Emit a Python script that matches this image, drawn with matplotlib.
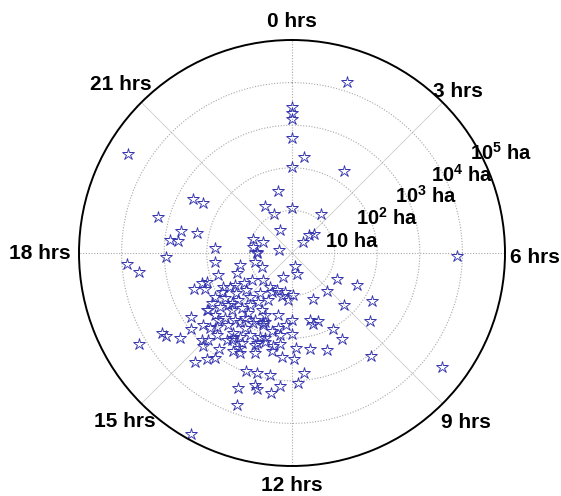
import numpy as np
import matplotlib
matplotlib.use("Agg")
import matplotlib.pyplot as plt

# hour of day (0-24) and log10 of burned area (ha)
fire_hour = [
    1.19, 0.00, 0.00, 0.00, 0.00, 0.48, 0.00, 2.16, 23.15, 22.01,
    22.35, 0.00, 2.44, 3.00, 2.89, 3.28, 22.16, 20.07, 19.91, 19.97,
    19.01, 18.75, 18.79, 18.41, 18.40, 18.25, 19.31, 19.39, 18.58, 18.11,
    18.87, 17.75, 17.53, 17.88, 6.07, 11.13, 11.11, 8.00, 7.75, 9.16,
    10.37, 11.91, 9.00, 8.07, 11.00, 10.61, 10.90, 10.11, 8.74, 9.97,
    12.00, 11.84, 11.29, 10.67, 11.93, 9.50, 11.61, 11.82, 8.49, 13.37,
    12.87, 13.94, 13.33, 13.46, 13.05, 12.97, 12.35, 12.57, 13.43, 13.09,
    12.68, 14.78, 14.58, 12.37, 14.43, 15.94, 15.88, 15.76, 15.51, 15.53,
    15.84, 15.75, 16.65, 16.76, 16.50, 15.07, 14.93, 14.50, 14.31, 14.09,
    13.85, 13.46, 13.13, 12.78, 17.56, 16.89, 16.73, 18.00, 17.09, 16.33,
    17.13, 16.67, 15.87, 16.05, 13.81, 14.58, 14.91, 12.33, 15.74, 16.02,
    15.72, 15.54, 15.10, 14.82, 14.42, 13.85, 15.06, 14.69, 13.93, 13.43,
    12.70, 14.14, 14.81, 14.32, 14.93, 13.17, 13.96, 12.78, 13.35, 16.09,
    16.25, 15.73, 15.13, 14.19, 13.47, 12.68, 15.35, 15.41, 15.19, 14.47,
    13.94, 13.50, 12.85, 12.00, 14.45, 14.12, 12.55, 13.42, 12.50, 13.57,
    13.46, 15.03, 13.39, 13.94, 16.06, 15.39, 15.27, 14.39, 14.77, 14.59,
    15.19, 15.63, 14.32, 15.87, 15.41, 13.81, 15.40, 14.45, 13.81, 12.32,
    12.97,
]
log10_area = [
    4.21, 3.42, 3.28, 3.14, 2.69, 2.26, 2.03, 2.29, 1.50, 1.28,
    1.01, 1.06, 1.15, 0.37, 0.58, 0.69, 0.61, 4.49, 2.66, 2.39,
    3.25, 2.65, 2.29, 2.87, 2.70, 1.80, 0.98, 0.73, 0.93, 0.83,
    0.31, 3.88, 3.61, 2.95, 3.87, 0.31, 0.51, 1.23, 1.71, 1.22,
    1.19, 0.99, 1.73, 2.20, 1.64, 1.72, 1.75, 2.04, 2.44, 2.33,
    1.89, 2.24, 2.30, 2.41, 2.48, 3.06, 2.82, 3.05, 4.42, 0.60,
    1.04, 4.86, 3.79, 3.41, 3.23, 3.29, 3.13, 3.32, 2.97, 2.93,
    2.92, 3.44, 3.20, 2.46, 3.05, 4.18, 3.58, 3.54, 3.30, 2.98,
    2.82, 2.41, 2.46, 2.22, 2.22, 2.95, 3.02, 2.83, 2.49, 2.68,
    2.64, 2.34, 2.19, 2.22, 1.83, 1.82, 2.10, 0.83, 0.90, 0.78,
    1.26, 1.38, 1.34, 1.54, 1.03, 1.21, 1.43, 1.11, 1.90, 2.09,
    2.39, 2.12, 1.95, 1.75, 1.75, 1.52, 2.20, 2.07, 1.80, 1.75,
    1.80, 2.09, 2.61, 2.44, 2.85, 2.10, 2.55, 2.34, 2.51, 1.67,
    1.81, 1.14, 0.93, 0.96, 0.94, 0.93, 1.84, 2.33, 2.61, 2.04,
    1.89, 1.79, 1.50, 1.58, 2.33, 2.33, 1.95, 2.28, 2.16, 1.59,
    1.83, 2.48, 2.12, 2.43, 1.89, 1.94, 1.69, 1.89, 2.27, 1.58,
    2.35, 1.62, 1.41, 2.22, 1.39, 1.24, 2.70, 2.56, 2.17, 1.70,
    1.88,
]

hour_labels = ["0 hrs", "3 hrs", "6 hrs", "9 hrs", "12 hrs", "15 hrs", "18 hrs", "21 hrs"]
ring_labels = ["10 ha", "10$^{2}$ ha", "10$^{3}$ ha", "10$^{4}$ ha", "10$^{5}$ ha"]

plt.rcParams["font.family"] = ["Liberation Sans", "DejaVu Sans"]
plt.rcParams["mathtext.fontset"] = "custom"
plt.rcParams["mathtext.rm"] = "Liberation Sans:bold"
plt.rcParams["mathtext.it"] = "Liberation Sans:bold"
plt.rcParams["mathtext.bf"] = "Liberation Sans:bold"

W, H = 561, 496
fig = plt.figure(figsize=(W / 100, H / 100), dpi=100)
ax = fig.add_axes([79 / W, 30 / H, 426 / W, 426 / H], projection="polar")

theta = np.deg2rad(np.array(fire_hour) * 15.0)
ax.plot(theta, log10_area, linestyle="none", marker="*", markersize=9,
        markerfacecolor="none", markeredgecolor="#3535b0", markeredgewidth=0.65)

ax.set_theta_zero_location("N")
ax.set_theta_direction(-1)
ax.set_ylim(0, 5)
ax.set_xticks(np.deg2rad(np.arange(0, 360, 45)))
ax.set_xticklabels([])
ax.set_yticks([1, 2, 3, 4])
ax.set_yticklabels([])
ax.grid(True, color="#a8a8a8", linestyle=(0, (1, 1.5)), linewidth=0.8)
# diagonal spokes render as faint solid lines in the original
for i, gl in enumerate(ax.xaxis.get_gridlines()):
    if i % 2:
        gl.set_linestyle("-")
        gl.set_linewidth(0.5)
        gl.set_color("#c4c4c4")
ax.spines["polar"].set_color("black")
ax.spines["polar"].set_linewidth(1.4)

# label positions in pixels (x from left, baseline y from top)
hour_pos = [(292, 27), (458, 97), (535, 263), (466, 428),
            (292, 491), (125, 427), (40, 259), (121, 90)]
for txt, (x, y) in zip(hour_labels, hour_pos):
    fig.text(x / W, 1 - y / H, txt, ha="center", va="baseline",
             fontsize=15, fontweight="bold")

ring_pos = [(352, 247), (387, 225), (426, 203), (462, 182), (501, 160)]
for txt, (x, y) in zip(ring_labels, ring_pos):
    fig.text(x / W, 1 - y / H, txt, ha="center", va="baseline",
             fontsize=14.5, fontweight="bold")

fig.savefig("out.png", dpi=100)
